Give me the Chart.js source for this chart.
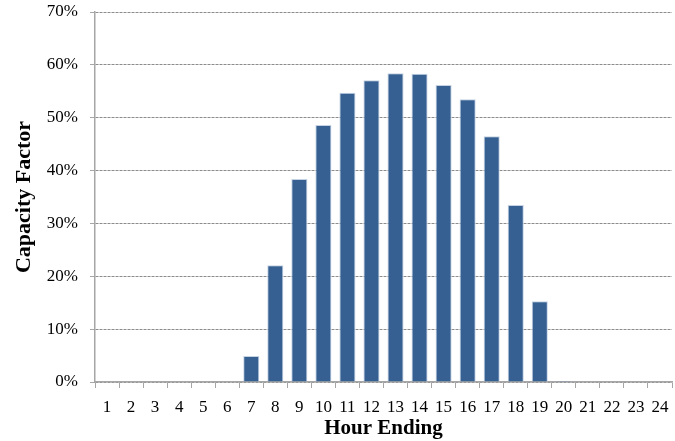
<!DOCTYPE html>
<html>
<head>
<meta charset="utf-8">
<script src="https://cdn.jsdelivr.net/npm/chart.js@4/dist/chart.umd.min.js"></script>
<style>
  html, body { margin: 0; padding: 0; background: #fff; }
  #wrap { width: 675px; height: 441px; }
</style>
</head>
<body>
<div id="wrap"><canvas id="c" width="675" height="441"></canvas></div>
<script>
const hours = ['1','2','3','4','5','6','7','8','9','10','11','12','13','14','15','16','17','18','19','20','21','22','23','24'];
const capacityFactor = [0, 0, 0, 0, 0, 0, 4.9, 22.1, 38.4, 48.6, 54.7, 57.1, 58.4, 58.3, 56.2, 53.5, 46.5, 33.5, 15.3, 0.2, 0, 0, 0, 0];
const yTicks = [0, 10, 20, 30, 40, 50, 60, 70];

const serif = "'Liberation Serif', 'Times New Roman', serif";

new Chart(document.getElementById('c'), {
  type: 'bar',
  data: {
    labels: hours,
    datasets: [{
      data: capacityFactor,
      backgroundColor: '#366092',
      borderColor: 'rgba(190,205,225,0.9)',
      borderWidth: { top: 1, left: 1, right: 1, bottom: 0 },
      barPercentage: 0.67,
      categoryPercentage: 1.0
    }]
  },
  options: {
    responsive: false,
    animation: false,
    devicePixelRatio: 1,
    layout: { padding: { top: 0, right: 3, left: 4, bottom: 0 } },
    plugins: { legend: { display: false }, tooltip: { enabled: false } },
    scales: {
      x: {
        afterFit: (s) => { s.height = 59; s.paddingLeft = 0; s.paddingRight = 0; },
        grid: {
          offset: true,
          drawOnChartArea: false,
          drawTicks: true,
          tickLength: 6,
          tickColor: '#a6a6a6'
        },
        border: { color: '#a6a6a6', width: 1.5 },
        ticks: { color: '#000', font: { family: serif, size: 17 }, padding: 9, maxRotation: 0, autoSkip: false },
        title: { display: true, text: 'Hour Ending', color: '#000', font: { family: serif, size: 21, weight: 'bold' }, padding: { top: 0, bottom: 0 } }
      },
      y: {
        min: 0,
        max: 70,
        afterBuildTicks: (axis) => { axis.ticks = yTicks.map(v => ({ value: v })); },
        afterFit: (s) => { s.width = 91; s.paddingTop = 12; s.paddingBottom = 0; },
        grid: {
          color: '#8c8c8c',
          lineWidth: 1,
          tickLength: 5,
          tickColor: '#a6a6a6',
          tickBorderDash: [1, 0]
        },
        border: { color: '#a6a6a6', width: 1.5, dash: [3, 1] },
        ticks: { color: '#000', font: { family: serif, size: 17 }, padding: 12, callback: (v) => v + '%' },
        title: { display: true, text: 'Capacity Factor', color: '#000', font: { family: serif, size: 22, weight: 'bold' }, padding: { top: 7, bottom: 0 } }
      }
    }
  }
});
</script>
</body>
</html>
